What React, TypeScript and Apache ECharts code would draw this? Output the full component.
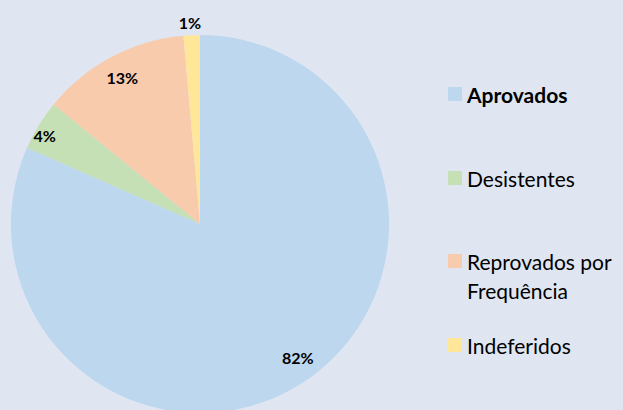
import React, { useEffect, useRef } from "react";
import * as echarts from "echarts";

const categories = ["Aprovados", "Desistentes", "Reprovados por Frequência", "Indeferidos"];
const values = [81.6, 4.3, 12.7, 1.4];
const colors = ["#bdd7ee", "#c5e0b4", "#f8cbad", "#ffe699"];
const legendCenters = [94, 178, 261, 345];

export default function App() {
  const ref = useRef<HTMLDivElement>(null);
  useEffect(() => {
    document.body.style.margin = "0";
    const chart = echarts.init(ref.current!, undefined, { renderer: "svg" });
    const font = "Lato, 'Noto Sans', sans-serif";
    const data = categories.map((name, i) => ({ name, value: values[i], itemStyle: { color: colors[i] } }));
    const labelOffsets: Record<number, number[]> = { 0: [6, -7], 1: [-1, 6], 2: [1, 2], 3: [-1, 2] };
    const labelSeries = (radius: number[], show: number[]) => ({
      type: "pie",
      center: [200, 224],
      radius,
      startAngle: 90,
      clockwise: true,
      silent: true,
      legendHoverLink: false,
      itemStyle: { color: "rgba(0,0,0,0)" },
      labelLine: { show: false },
      data: categories.map((name, i) => ({
        name,
        value: values[i],
        label: { show: show.indexOf(i) >= 0, offset: labelOffsets[i] },
      })),
      label: {
        show: true,
        position: "inside",
        formatter: (p: any) => Math.round(p.percent) + "%",
        fontFamily: font,
        fontSize: 16,
        fontWeight: "bold",
        color: "#000",
      },
    });
    const L = 29;
    const legends = categories.map((name, i) => {
      const multi = name.indexOf("por ") >= 0;
      return {
        show: true,
        orient: "vertical" as const,
        left: 448,
        top: multi ? legendCenters[i] - 1.5 * L : legendCenters[i] - L / 2,
        padding: 0,
        itemWidth: 14,
        itemHeight: 14,
        itemGap: 0,
        icon: "rect",
        selectedMode: false,
        data: [
          {
            name,
            textStyle: { fontWeight: i === 0 ? "bold" : "normal", lineHeight: L },
          },
        ],
        formatter: (n: string) => (n.indexOf("por ") >= 0 ? "\n" + n.replace("por ", "por\n") : n),
        textStyle: { fontFamily: font, fontSize: 21, color: "#000" },
      };
    });
    chart.setOption({
      animation: false,
      backgroundColor: "#dfe6f1",
      legend: legends,
      series: [
        {
          type: "pie",
          center: [200, 224],
          radius: [0, 189],
          startAngle: 90,
          clockwise: true,
          data,
          label: { show: false },
          labelLine: { show: false },
          silent: true,
        },
        labelSeries([141, 189], [0, 2]),
        labelSeries([167, 189], [1]),
        labelSeries([190, 212], [3]),
      ],
    });
    return () => chart.dispose();
  }, []);
  return <div ref={ref} style={{ width: 623, height: 410 }} />;
}
